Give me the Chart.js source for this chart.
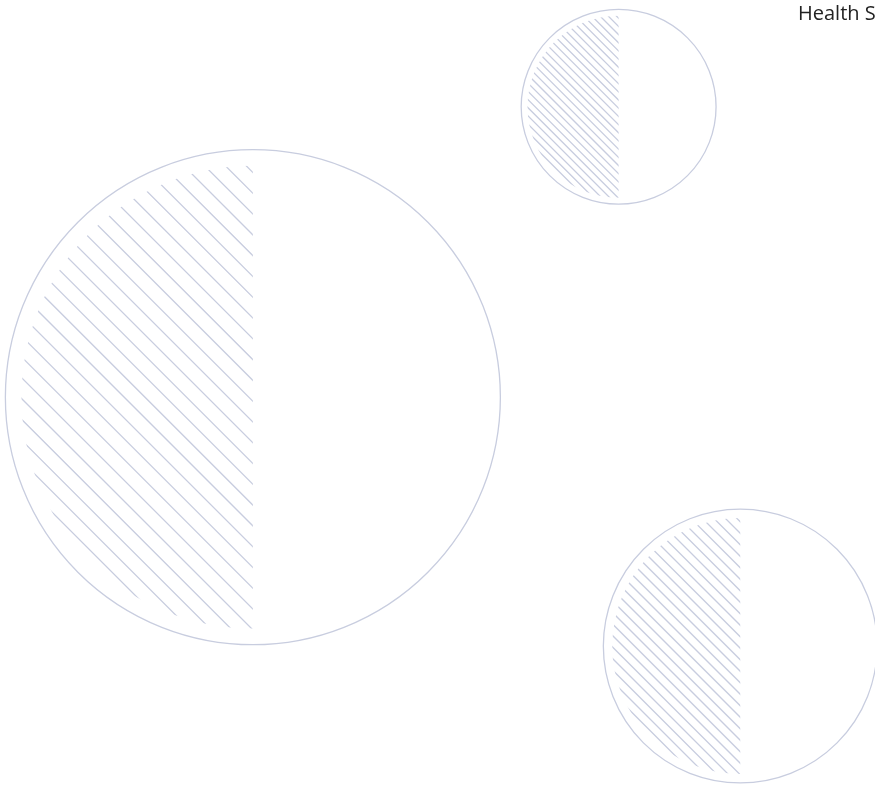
<!DOCTYPE html>
<html>
<head>
<meta charset="utf-8">
<script src="https://cdn.jsdelivr.net/npm/chart.js@4.4.1/dist/chart.umd.min.js"></script>
<style>
  html, body { margin: 0; padding: 0; background: #fff; overflow: hidden; }
  #wrap { position: relative; width: 875px; height: 785px; }
  #legendText {
    position: absolute; left: 798px; top: 3px;
    font-family: "Open Sans", sans-serif; font-size: 20px; line-height: 20px;
    color: #222; white-space: nowrap;
  }
</style>
</head>
<body>
<div id="wrap">
  <canvas id="bubbleChart" width="875" height="785"></canvas>
  <div id="legendText">Health Spending</div>
</div>
<script>
// --- dados ---
const categorias = ['A', 'B', 'C'];
const valoresX = [28.9, 70.7, 84.6];
const valoresY = [49.4, 86.4, 17.7];
const tamanhos = [100, 15.5, 30.6];   // tamanho da bolha (área)

const corLinha = 'rgb(200, 205, 223)';

// hachura na metade esquerda de cada bolha
const hachuraPlugin = {
    id: 'hachura',
    afterDatasetsDraw(chart) {
        const ctx = chart.ctx;
        chart.getDatasetMeta(0).data.forEach(function(pt) {
            const r = pt.options.radius;
            const x = pt.x, y = pt.y;
            const ri = r * 0.935;
            const passo = r * 0.084;
            ctx.save();
            ctx.beginPath();
            ctx.arc(x, y, ri, 0, Math.PI * 2);
            ctx.clip();
            ctx.beginPath();
            ctx.rect(x - r, y - r, r, 2 * r);
            ctx.clip();
            ctx.strokeStyle = corLinha;
            ctx.lineWidth = 1.3;
            ctx.beginPath();
            for (let c = -2 * r; c <= 2 * r; c += passo) {
                ctx.moveTo(x - r, y + c - r);
                ctx.lineTo(x + r, y + c + r);
            }
            ctx.stroke();
            ctx.restore();
        });
    }
};

document.addEventListener('DOMContentLoaded', function() {
    const ctx = document.getElementById('bubbleChart').getContext('2d');
    new Chart(ctx, {
        type: 'bubble',
        data: {
            datasets: [{
                label: 'Health Spending',
                data: categorias.map(function(c, i) {
                    return { x: valoresX[i], y: valoresY[i], r: 24.75 * Math.sqrt(tamanhos[i]) };
                }),
                backgroundColor: 'rgba(255,255,255,0)',
                borderColor: corLinha,
                borderWidth: 1.3,
                clip: false
            }]
        },
        plugins: [hachuraPlugin],
        options: {
            responsive: false,
            animation: false,
            layout: { padding: 0, autoPadding: false },
            scales: {
                x: { display: false, min: 0, max: 100 },
                y: { display: false, min: 0, max: 100 }
            },
            plugins: { legend: { display: false }, tooltip: { enabled: false } }
        }
    });
});
</script>
</body>
</html>
